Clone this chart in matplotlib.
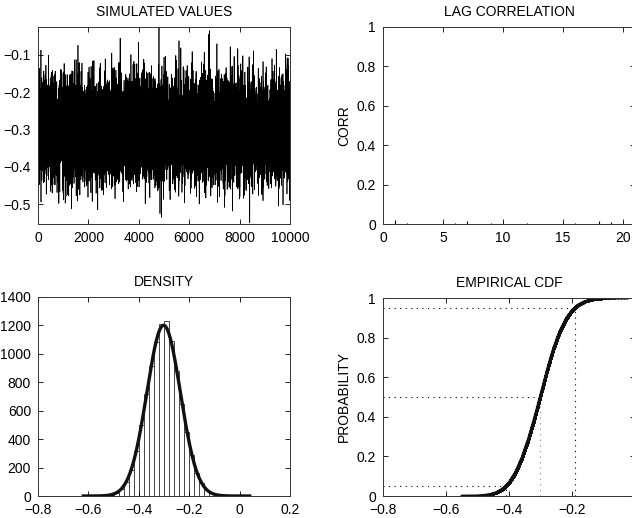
import numpy as np
import matplotlib
matplotlib.use('Agg')
import matplotlib.pyplot as plt
from matplotlib.ticker import FuncFormatter

plt.rcParams['font.family'] = ['Liberation Sans', 'DejaVu Sans']
plt.rcParams['font.size'] = 10

# ---- data ----
# histogram of simulated values (bin width 0.02)
bin_centers = [-0.55, -0.53, -0.51, -0.49, -0.47, -0.45, -0.43, -0.41, -0.39,
               -0.37, -0.35, -0.33, -0.31, -0.29, -0.27, -0.25, -0.23, -0.21,
               -0.19, -0.17, -0.15, -0.13, -0.11, -0.09, -0.07, -0.05, -0.03]
bin_counts = [1, 2, 6, 22, 48, 95, 185, 315, 500,
              715, 915, 1080, 1210, 1230, 1090, 880, 650, 450,
              285, 165, 90, 45, 22, 10, 5, 2, 2]
bin_width = 0.02

# iteration indices of the most visible spikes in the trace (max, 2nd max, min)
spike_positions = [4800, 6800, 8400]

# lag correlations, lags 1..20
lags = list(range(1, 21))
lag_corr = [0.020, 0.006, -0.004, -0.003, 0.004, 0.006, 0.015, -0.004, 0.006, 0.003,
            -0.006, 0.006, -0.003, -0.005, 0.004, 0.007, -0.003, 0.013, 0.008, -0.002]

cdf_levels = [0.05, 0.5, 0.95]

# ---- build the sample from the histogram ----
vals = []
for c, k in zip(bin_centers, bin_counts):
    lo = c - bin_width / 2
    vals.extend(lo + (np.arange(k) + 0.5) / k * bin_width)
vals = np.sort(np.array(vals))
n = len(vals)

# fixed scrambled ordering for the trace (integer hash of the index)
idx = np.arange(n, dtype=np.uint64)
h = (idx * np.uint64(2654435761) + np.uint64(12345)) % np.uint64(2**32)
h ^= h >> np.uint64(13)
h = (h * np.uint64(1274126177)) % np.uint64(2**32)
h ^= h >> np.uint64(16)
order = np.argsort(h, kind='stable')
trace = vals[order].copy()
# place the extreme values where the spikes appear
for pos, target in zip(spike_positions, [n - 1, n - 2, 0]):
    j = np.where(trace == vals[target])[0][0]
    trace[pos], trace[j] = trace[j], trace[pos]

W, H = 632, 518
fig = plt.figure(figsize=(W / 100, H / 100), dpi=100)


def rect(l, t, r, b):
    return [l / W, 1 - b / H, (r - l) / W, (b - t) / H]


def style(ax):
    ax.tick_params(direction='in', top=True, right=True, length=3.5, width=0.6,
                   labelsize=10, pad=5, colors='black')
    for s in ax.spines.values():
        s.set_linewidth(0.7)
        s.set_color('#333333')


fmt = FuncFormatter(lambda v, p: ('%g' % round(v, 6)).replace('-', '\u2212'))

# ---- simulated values ----
ax1 = fig.add_axes(rect(38, 27, 290, 224))
ax1.plot(np.arange(1, n + 1), trace, color='black', lw=0.5)
ax1.set_xlim(0, 10000)
ax1.set_ylim(trace.min() - 0.003, trace.max())
ax1.set_xticks([0, 2000, 4000, 6000, 8000, 10000])
ax1.set_yticks([-0.5, -0.4, -0.3, -0.2, -0.1])
ax1.yaxis.set_major_formatter(fmt)
ax1.set_title('SIMULATED VALUES', fontsize=10, pad=8)
style(ax1)

# ---- lag correlation ----
ax2 = fig.add_axes(rect(383, 27, 635, 224))
ax2.vlines(lags, 0, lag_corr, color='black', lw=0.8)
ax2.set_xlim(0, 21)
ax2.set_ylim(0, 1)
ax2.set_xticks([0, 5, 10, 15, 20])
ax2.set_yticks([0, 0.2, 0.4, 0.6, 0.8, 1])
ax2.yaxis.set_major_formatter(fmt)
ax2.set_ylabel('CORR', fontsize=10, labelpad=4)
ax2.set_title('LAG CORRELATION', fontsize=10, pad=8)
style(ax2)

# ---- density ----
ax3 = fig.add_axes(rect(38, 297, 290, 496))
ax3.bar(bin_centers, bin_counts, width=bin_width, color='white',
        edgecolor='#444444', linewidth=0.7)
mu, sd = vals.mean(), vals.std()
xs = np.linspace(-0.62, 0.04, 300)
ax3.plot(xs, n * bin_width / (sd * np.sqrt(2 * np.pi)) * np.exp(-0.5 * ((xs - mu) / sd) ** 2),
         color='#111111', lw=2.4)
ax3.set_xlim(-0.8, 0.2)
ax3.set_ylim(0, 1400)
ax3.set_xticks([-0.8, -0.6, -0.4, -0.2, 0, 0.2])
ax3.set_yticks(range(0, 1401, 200))
ax3.xaxis.set_major_formatter(fmt)
ax3.set_title('DENSITY', fontsize=10, pad=8)
style(ax3)

# ---- empirical cdf ----
ax4 = fig.add_axes(rect(383, 298, 635, 496))
F = np.arange(1, n + 1) / n
qs = np.quantile(vals, cdf_levels)
for lev, q, col in zip(cdf_levels, qs, ['black', '#888888', 'black']):
    ax4.plot([-0.8, q], [lev, lev], color='black', lw=0.8, ls=(0, (1, 4)))
    ax4.plot([q, q], [0, lev], color=col, lw=0.8, ls=(0, (1, 4)))
ax4.plot(vals, F, color='#111111', lw=2.0, solid_capstyle='round')
ax4.plot(vals, F, ls='none', marker='o', ms=1.8, mew=0, color='#111111')
ax4.set_xlim(-0.8, 0)
ax4.set_ylim(0, 1)
ax4.set_xticks([-0.8, -0.6, -0.4, -0.2, 0])
ax4.set_yticks([0, 0.2, 0.4, 0.6, 0.8, 1])
ax4.xaxis.set_major_formatter(fmt)
ax4.yaxis.set_major_formatter(fmt)
ax4.set_ylabel('PROBABILITY', fontsize=10, labelpad=4)
ax4.set_title('EMPIRICAL CDF', fontsize=10, pad=8)
style(ax4)

fig.savefig('out.png', dpi=100)
